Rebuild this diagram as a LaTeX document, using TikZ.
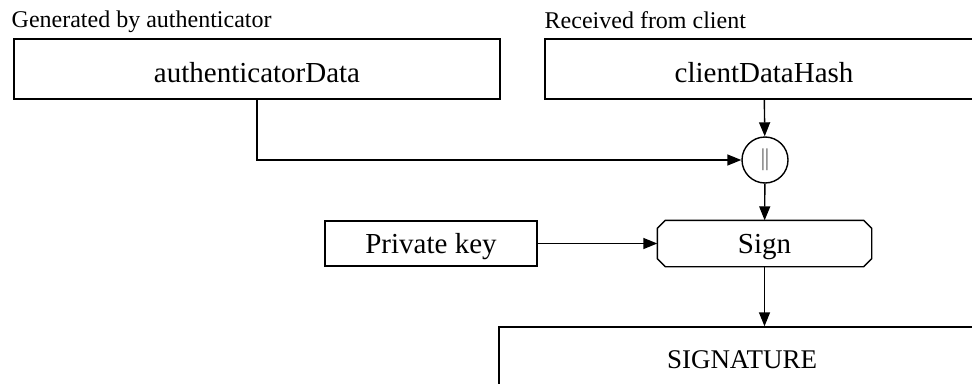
\documentclass[tikz,border=0pt]{standalone}
\usepackage{fontspec}
\setmainfont{Liberation Serif}
\usepackage{tikz}
\usetikzlibrary{arrows.meta}
\newcommand{\boxfont}{\fontsize{29pt}{32pt}\selectfont}
\newcommand{\tagfont}{\fontsize{24pt}{27pt}\selectfont}

\begin{document}
\begin{tikzpicture}[x=1pt, y=-1pt, line width=1.4pt,
  databox/.style={draw, rectangle, minimum width=#1, minimum height=60pt, inner sep=0pt,
    font=\boxfont, text height=26pt, text depth=0pt},
  databox/.default=486pt,
  stepbox/.style={rectangle, minimum width=212pt, minimum height=45pt, inner sep=0pt,
    font=\boxfont, text height=19pt, text depth=0pt},
  tag/.style={anchor=base west, inner sep=0pt, font=\tagfont},
  flow/.style={-{Triangle[length=14pt,width=11pt]}}]
%%%%% Frame %%%%%
\useasboundingbox (0,0) rectangle (972,383);
\clip (0,0) rectangle (972,383);
%%%%% Inputs %%%%%
\node[tag] (gentag) at (11,27) {Generated by authenticator};
\node[tag] (rectag) at (544,28) {Received from client};
\node[databox] (adata) at (257,69) {authenticatorData};
\node[databox=438pt] (cdhash) at (764,69) {clientDataHash};
\node[draw, circle, minimum size=46pt, inner sep=0pt, text=black!60] (concat) at (765,160)
  {\fontsize{24pt}{24pt}\selectfont|\kern-1pt|};
%%%%% Signing %%%%%
\node[stepbox, draw] (pkey) at (431,243.5) {Private key};
\node[stepbox, minimum width=213pt] (sign) at (764.5,243.5) {Sign};
\draw ([xshift=8pt]sign.north west) -- ([xshift=-8pt]sign.north east)
  -- ([yshift=-8pt]sign.north east) -- ([yshift=8pt]sign.south east)
  -- ([xshift=-8pt]sign.south east) -- ([xshift=8pt]sign.south west)
  -- ([yshift=8pt]sign.south west) -- ([yshift=-8pt]sign.north west) -- cycle;
\node[databox, font=\fontsize{27pt}{30pt}\selectfont, text height=22pt] (sig) at (742,357) {SIGNATURE};
%%%%% Arrows %%%%%
\draw[flow] (adata) |- (concat);
\draw[flow] (cdhash) -- (concat);
\draw[flow] (concat) -- (sign);
\draw[flow] (pkey) -- (sign);
\draw[flow] (sign) -- (sign |- sig.north);
\end{tikzpicture}
\end{document}
